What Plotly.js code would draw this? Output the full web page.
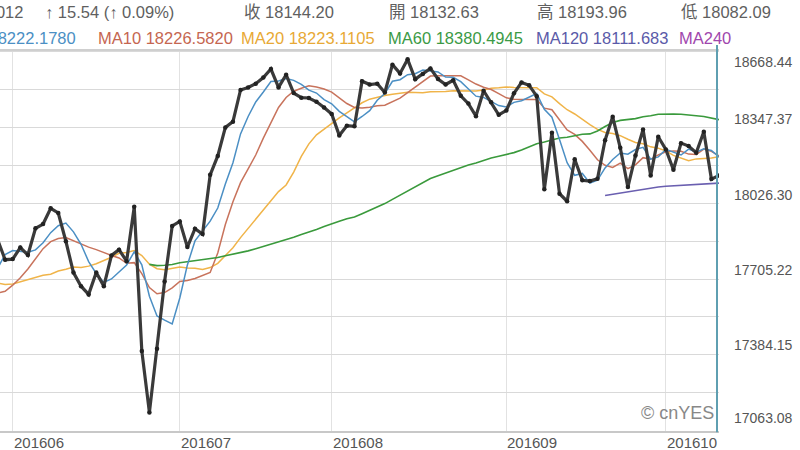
<!DOCTYPE html>
<html>
<head>
<meta charset="utf-8">
<script src="https://cdn.plot.ly/plotly-3.0.1.min.js"></script>
<style>html,body{margin:0;padding:0;background:#fff;}#chart{width:800px;height:450px;}</style>
</head>
<body>
<div id="chart"></div>
<script>
// Trading days shown (category axis)
var dates = [
"2016-05-27","2016-05-31",
"2016-06-01","2016-06-02","2016-06-03","2016-06-06","2016-06-07","2016-06-08","2016-06-09","2016-06-10","2016-06-13","2016-06-14","2016-06-15","2016-06-16","2016-06-17","2016-06-20","2016-06-21","2016-06-22","2016-06-23","2016-06-24","2016-06-27","2016-06-28","2016-06-29","2016-06-30",
"2016-07-01","2016-07-05","2016-07-06","2016-07-07","2016-07-08","2016-07-11","2016-07-12","2016-07-13","2016-07-14","2016-07-15","2016-07-18","2016-07-19","2016-07-20","2016-07-21","2016-07-22","2016-07-25","2016-07-26","2016-07-27","2016-07-28","2016-07-29",
"2016-08-01","2016-08-02","2016-08-03","2016-08-04","2016-08-05","2016-08-08","2016-08-09","2016-08-10","2016-08-11","2016-08-12","2016-08-15","2016-08-16","2016-08-17","2016-08-18","2016-08-19","2016-08-22","2016-08-23","2016-08-24","2016-08-25","2016-08-26","2016-08-29","2016-08-30","2016-08-31",
"2016-09-01","2016-09-02","2016-09-06","2016-09-07","2016-09-08","2016-09-09","2016-09-12","2016-09-13","2016-09-14","2016-09-15","2016-09-16","2016-09-19","2016-09-20","2016-09-21","2016-09-22","2016-09-23","2016-09-26","2016-09-27","2016-09-28","2016-09-29","2016-09-30",
"2016-10-03","2016-10-04","2016-10-05","2016-10-06","2016-10-07","2016-10-10","2016-10-11","2016-10-12"];

var closeVals = [
17873.22,17787.20,
17789.67,17838.56,17807.06,17920.33,17938.28,18005.05,17985.19,17865.34,17732.48,17674.82,17640.17,17733.10,17675.16,17804.87,17829.73,17780.83,18011.07,17400.75,17140.24,17409.72,17694.68,17929.99,
17949.37,17840.62,17918.62,17895.88,18146.74,18226.93,18347.67,18372.12,18506.41,18516.55,18533.05,18559.01,18595.03,18517.23,18570.85,18493.06,18473.75,18472.17,18456.35,18432.24,
18404.51,18313.77,18355.00,18352.05,18543.53,18529.29,18533.05,18495.66,18613.52,18576.47,18636.05,18552.02,18573.94,18597.70,18552.57,18529.42,18547.30,18481.48,18448.41,18395.40,18502.99,18454.30,18400.88,
18419.30,18491.96,18538.12,18526.14,18479.91,18085.45,18325.07,18066.75,18034.77,18212.48,18123.80,18120.17,18129.96,18293.70,18392.46,18261.45,18094.83,18228.30,18339.24,18143.45,18308.15,
18253.85,18168.45,18281.03,18268.50,18240.49,18329.04,18128.66,18144.20];

var ma5 = [
17750.4,17809.2,
17826.0,17823.4,17819.2,17828.6,17858.8,17901.8,17931.0,17942.6,17905.0,17852.4,17779.4,17729.0,17691.0,17705.6,17736.6,17764.8,17820.4,17765.6,17632.6,17548.6,17531.4,17515.2,
17624.8,17765.0,17866.8,17907.0,17950.4,18006.0,18107.4,18198.0,18320.0,18394.0,18455.2,18497.4,18542.0,18544.2,18555.0,18547.0,18530.0,18505.4,18493.2,18465.4,
18447.8,18415.8,18392.4,18371.6,18394.0,18418.8,18462.6,18490.8,18543.2,18549.6,18571.0,18574.8,18590.4,18587.2,18582.6,18561.2,18560.2,18541.6,18511.6,18480.0,18474.8,18456.2,18440.2,
18434.4,18453.8,18460.8,18475.2,18491.0,18424.2,18390.8,18296.6,18198.4,18144.8,18152.6,18111.6,18124.2,18176.0,18212.0,18239.4,18234.4,18254.0,18263.0,18213.2,18222.6,
18254.4,18242.4,18230.8,18256.0,18242.4,18257.4,18249.6,18222.2];

var ma10 = [
17645.6,17653.2,
17679.2,17710.4,17747.6,17789.5,17834.0,17863.9,17877.2,17880.9,17866.8,17855.6,17840.6,17830.0,17816.8,17805.3,17794.5,17772.1,17774.7,17728.3,17669.1,17642.6,17648.1,17667.8,
17695.2,17698.8,17707.7,17719.2,17732.8,17815.4,17936.2,18032.4,18113.5,18172.2,18230.6,18302.4,18370.0,18432.1,18474.5,18501.1,18513.7,18523.7,18518.7,18510.2,
18497.4,18472.9,18448.9,18432.4,18429.7,18433.3,18439.2,18441.6,18457.4,18471.8,18494.9,18518.7,18540.6,18565.2,18566.1,18566.1,18567.5,18566.0,18549.4,18531.3,18518.0,18508.2,18490.9,
18473.0,18466.9,18467.8,18465.7,18465.6,18429.3,18422.3,18378.7,18336.8,18317.9,18288.4,18251.2,18210.4,18187.2,18178.4,18196.0,18173.0,18189.1,18219.5,18212.6,18231.0,
18244.4,18248.2,18246.9,18234.6,18232.5,18255.9,18246.0,18226.6];

var ma20 = [
17687.6,17682.4,
17684.3,17693.7,17701.0,17710.0,17721.6,17725.4,17739.1,17746.4,17756.2,17754.4,17759.9,17770.2,17782.2,17797.4,17814.3,17818.0,17826.0,17804.6,17768.0,17749.1,17744.4,17748.9,
17756.0,17752.1,17751.1,17745.7,17753.8,17771.9,17802.7,17837.5,17880.8,17920.0,17962.9,18000.6,18038.9,18075.7,18103.7,18158.3,18225.0,18278.1,18316.1,18341.2,
18364.0,18387.7,18409.5,18432.3,18452.1,18467.2,18476.5,18482.7,18488.1,18491.0,18496.2,18495.8,18494.8,18498.8,18497.9,18499.7,18503.4,18503.8,18503.4,18501.6,18506.5,18513.5,18515.8,
18519.1,18516.5,18517.0,18516.6,18515.8,18489.4,18476.8,18448.4,18422.5,18404.4,18380.7,18359.1,18339.1,18326.5,18322.0,18312.7,18297.7,18283.9,18278.2,18265.3,18259.7,
18247.8,18229.3,18217.1,18206.5,18214.3,18214.5,18217.6,18223.1];

// MA60 starts 2016-06-27, MA120 starts 2016-09-21
var ma60 = [
17767.5,17762.0,17763.6,17767.1,
17773.9,17778.3,17784.4,17787.3,17791.3,17796.3,17803.8,17809.9,17817.5,17824.5,17833.6,17842.9,17853.2,17862.0,17870.8,17881.8,17893.5,17903.2,17914.9,17927.9,
17940.3,17949.9,17960.7,17967.8,17981.7,17995.1,18011.8,18024.9,18042.9,18060.4,18080.4,18097.9,18116.0,18130.8,18142.5,18154.2,18165.4,18177.0,18188.0,18197.2,18208.8,18217.7,18225.4,
18232.3,18240.8,18252.0,18265.2,18278.7,18286.1,18295.9,18302.5,18306.3,18312.7,18318.4,18320.2,18332.4,18351.6,18368.0,18377.4,18380.1,18384.8,18393.1,18396.8,18403.7,
18405.5,18404.5,18403.4,18401.7,18397.2,18394.1,18387.4,18380.5];
var ma60Dates = dates.slice(20);

var ma120 = [18059.5,18065.0,18070.5,18073.6,18079.3,18085.7,18090.6,18095.5,
18098.4,18100.4,18103.6,18105.8,18107.3,18109.3,18110.5,18111.7];
var ma120Dates = dates.slice(80);

var monthTickVals = ["2016-06-01","2016-07-01","2016-08-01","2016-09-01","2016-10-03"];
var monthTickText = ["201606","201607","201608","201609","201610"];

var priceTicks = [18668.44,18347.37,18026.30,17705.22,17384.15,17063.08];
var priceTickShift = [-10,8.5,8.5,9,9.5,12.5];

var headerTop = ["20161012","↑ 15.54 (↑ 0.09%)","收 18144.20","開 18132.63","高 18193.96","低 18082.09"];
var headerTopX = [25,43,242,387,535,679];
var headerMA = ["MA5 18222.1780","MA10 18226.5820","MA20 18223.1105","MA60 18380.4945","MA120 18111.683","MA240"];
var headerMAX = [78,96,239,386,534,677];
var maColors = ["#4b8fc4","#c56650","#e8a935","#3b9a45","#5a5aa8","#a046ad"];
var lineColors = ["#4b8fc4","#c8735c","#f0b449","#3a9a3c","#6a5fb0"];

var FONT = "'Liberation Sans', Arial, 'Noto Sans CJK TC', sans-serif";
var PW = 719; // plot width px

var traces = [
 {x: dates, y: ma20, type:'scatter', mode:'lines', line:{color:lineColors[2], width:1.5}, hoverinfo:'skip'},
 {x: dates, y: ma10, type:'scatter', mode:'lines', line:{color:lineColors[1], width:1.5}, hoverinfo:'skip'},
 {x: ma60Dates, y: ma60, type:'scatter', mode:'lines', line:{color:lineColors[3], width:1.6}, hoverinfo:'skip'},
 {x: ma120Dates, y: ma120, type:'scatter', mode:'lines', line:{color:lineColors[4], width:1.6}, hoverinfo:'skip'},
 {x: dates, y: ma5, type:'scatter', mode:'lines', line:{color:lineColors[0], width:1.5}, hoverinfo:'skip'},
 {x: dates, y: closeVals, type:'scatter', mode:'lines+markers', line:{color:'#3a3a3a', width:3.2}, marker:{color:'#222', size:4.5}, hoverinfo:'skip'}
];

var ann = [];
for (var i=0;i<priceTicks.length;i++){
  ann.push({xref:'paper', yref:'y', x:1, y:priceTicks[i], xanchor:'left', yanchor:'middle', xshift:13, yshift:priceTickShift[i],
    text:priceTicks[i].toFixed(2), showarrow:false, font:{family:FONT, size:14, color:'#555'}});
}
for (var t=0;t<monthTickVals.length;t++){
  ann.push({xref:'x', yref:'paper', x:monthTickVals[t], y:0, xanchor:'left', yanchor:'middle', xshift:-1, yshift:-11,
    text:monthTickText[t], showarrow:false, font:{family:FONT, size:15, color:'#555'}});
}
for (var j=0;j<headerTop.length;j++){
  ann.push({xref:'paper', yref:'paper', x:headerTopX[j]/PW, y:1, xanchor: j===0?'right':'left', yanchor:'middle', yshift:38,
    text:headerTop[j], showarrow:false, font:{family:FONT, size:16.5, color:'#5f5f5f'}});
}
for (var m=0;m<headerMA.length;m++){
  ann.push({xref:'paper', yref:'paper', x:headerMAX[m]/PW, y:1, xanchor: m===0?'right':'left', yanchor:'middle', yshift:12,
    text:headerMA[m], showarrow:false, font:{family:FONT, size:16.5, color:maColors[m]}});
}
ann.push({xref:'paper', yref:'paper', x:716/PW, y:0, xanchor:'right', yanchor:'middle', yshift:18,
  text:'© cnYES', showarrow:false, font:{family:FONT, size:18, color:'#888'}});

var layout = {
  width:800, height:450,
  margin:{l:0, r:81, t:50, b:19, pad:0},
  paper_bgcolor:'#fff', plot_bgcolor:'#fff',
  showlegend:false,
  font:{family:FONT, color:'#555'},
  xaxis:{type:'category', range:[0.327, 95], tickvals:monthTickVals, showticklabels:false,
    showgrid:true, gridcolor:'#e2e2e2', gridwidth:1, showline:true, linecolor:'#c8c8c8', linewidth:2,
    ticks:'', zeroline:false, fixedrange:true},
  yaxis:{range:[17061.4, 18675.6], tick0:17063.08, dtick:160.536, showticklabels:false, showgrid:true,
    gridcolor:'#d9d9d9', gridwidth:1, zeroline:false, side:'right', fixedrange:true},
  shapes:[
    {type:'line', xref:'paper', yref:'paper', x0:0, x1:1, y0:1, y1:1, line:{color:'#cfcfcf', width:2}},
    {type:'line', xref:'paper', yref:'paper', x0:717/PW, x1:717/PW, y0:-0.003, y1:1.013, line:{color:'#5f9fb1', width:2}}
  ],
  annotations:ann
};

Plotly.newPlot('chart', traces, layout, {displayModeBar:false, staticPlot:true});
</script>
</body>
</html>
